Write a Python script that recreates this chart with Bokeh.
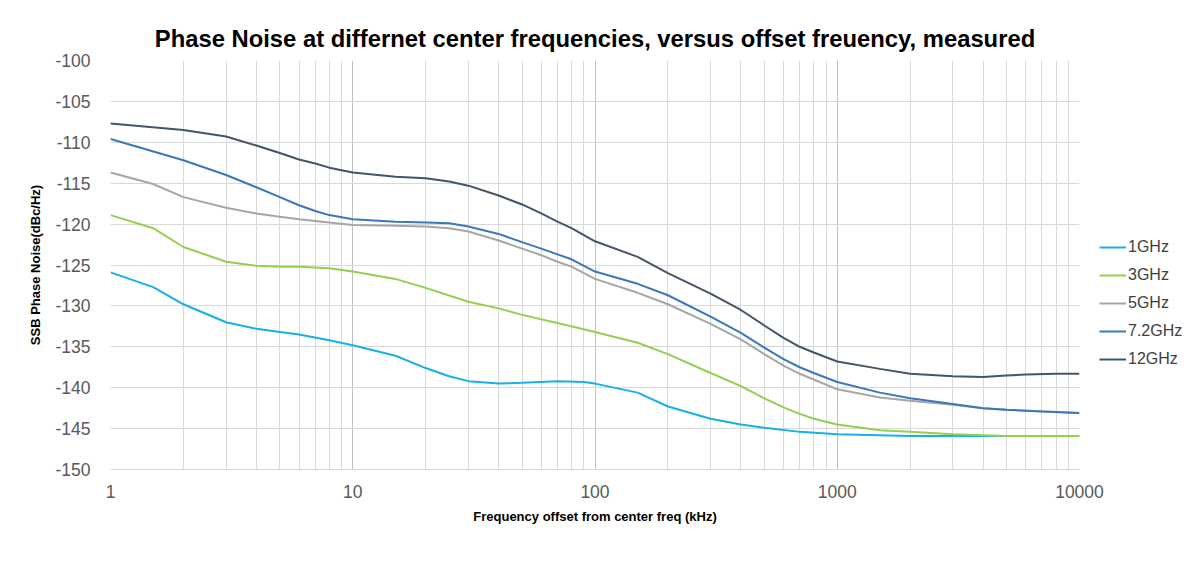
from bokeh.plotting import figure
from bokeh.models import Legend, LegendItem, FixedTicker, Range1d
from bokeh.embed import file_html
from bokeh.resources import INLINE

# Data (offset in kHz, phase noise in dBc/Hz)
freq_1g = [1, 1.5, 2, 3, 4, 5, 6, 8, 10, 15, 20, 25, 30, 40, 50, 70, 90, 100, 150, 200, 300, 400, 500, 700, 1000, 2000, 5000, 10000]
pn_1g = [-125.9, -127.7, -129.8, -132.0, -132.8, -133.2, -133.5, -134.2, -134.8, -136.1, -137.6, -138.6, -139.2, -139.5, -139.4, -139.2, -139.3, -139.5, -140.6, -142.3, -143.8, -144.5, -144.9, -145.4, -145.7, -145.9, -145.9, -145.9]

freq_3g = [1, 1.5, 2, 3, 4, 5, 6, 8, 10, 15, 20, 30, 40, 50, 70, 100, 150, 200, 300, 400, 500, 600, 700, 800, 1000, 1500, 2000, 3000, 5000, 10000]
pn_3g = [-118.9, -120.5, -122.8, -124.6, -125.1, -125.2, -125.2, -125.4, -125.8, -126.7, -127.8, -129.5, -130.3, -131.1, -132.1, -133.2, -134.5, -135.9, -138.2, -139.8, -141.3, -142.4, -143.2, -143.8, -144.5, -145.2, -145.4, -145.7, -145.9, -145.9]

freq_5g = [1, 1.5, 2, 3, 4, 5, 6, 8, 10, 15, 20, 25, 30, 40, 50, 60, 70, 80, 100, 150, 200, 300, 400, 500, 600, 700, 800, 1000, 1500, 2000, 3000, 4000, 5000, 10000]
pn_5g = [-113.7, -115.1, -116.7, -118.0, -118.7, -119.1, -119.4, -119.8, -120.1, -120.2, -120.3, -120.5, -120.9, -122.0, -123.0, -123.8, -124.6, -125.2, -126.7, -128.4, -129.8, -132.2, -134.1, -135.9, -137.3, -138.3, -139.0, -140.2, -141.2, -141.6, -142.1, -142.5, -142.7, -143.1]

freq_72g = [1, 2, 3, 4, 5, 6, 7, 8, 10, 15, 20, 25, 30, 40, 50, 60, 70, 80, 100, 150, 200, 300, 400, 500, 600, 700, 800, 1000, 1500, 2000, 3000, 4000, 5000, 7000, 10000]
pn_72g = [-109.6, -112.2, -114.0, -115.5, -116.7, -117.7, -118.4, -118.9, -119.4, -119.7, -119.8, -119.9, -120.3, -121.2, -122.2, -123.0, -123.7, -124.3, -125.8, -127.3, -128.7, -131.3, -133.3, -135.1, -136.5, -137.5, -138.2, -139.3, -140.6, -141.3, -142.0, -142.5, -142.7, -142.9, -143.1]

freq_12g = [1, 2, 3, 4, 5, 6, 7, 8, 10, 15, 20, 25, 30, 40, 50, 60, 70, 80, 100, 150, 200, 300, 400, 500, 600, 700, 800, 1000, 1500, 2000, 3000, 4000, 5000, 6000, 8000, 10000]
pn_12g = [-107.7, -108.5, -109.3, -110.4, -111.3, -112.1, -112.6, -113.1, -113.7, -114.2, -114.4, -114.8, -115.3, -116.5, -117.6, -118.7, -119.7, -120.5, -122.1, -124.0, -126.0, -128.5, -130.5, -132.4, -133.9, -135.0, -135.7, -136.8, -137.7, -138.3, -138.6, -138.7, -138.5, -138.4, -138.3, -138.3]

series_names = ["1GHz", "3GHz", "5GHz", "7.2GHz", "12GHz"]
series_x = [freq_1g, freq_3g, freq_5g, freq_72g, freq_12g]
series_y = [pn_1g, pn_3g, pn_5g, pn_72g, pn_12g]
colors = ["#17b0e8", "#92d050", "#a6a6a6", "#3878bb", "#44546a"]

x_major = [1, 10, 100, 1000, 10000]
x_minor = [m * d for d in [1, 10, 100, 1000] for m in range(2, 10)]
y_ticks = list(range(-150, -99, 5))

FONT = "Liberation Sans"

p = figure(frame_width=969, frame_height=409, x_axis_type="log",
           x_range=Range1d(1, 10000), y_range=Range1d(-150, -100),
           output_backend="svg", toolbar_location=None,
           min_border_left=110, min_border_right=0, min_border_top=60, min_border_bottom=94)

p.title.text = "Phase Noise at differnet center frequencies, versus offset freuency, measured"
p.title.text_font = FONT
p.title.text_font_size = "23.8px"
p.title.text_font_style = "bold"
p.title.text_color = "#000000"
p.title.align = "center"
p.title.standoff = 18

p.outline_line_color = None
p.background_fill_color = "white"
p.border_fill_color = "white"

# axes
p.xaxis.ticker = FixedTicker(ticks=x_major, minor_ticks=x_minor)
p.xaxis.major_label_overrides = {v: str(v) for v in x_major}
p.yaxis.ticker = FixedTicker(ticks=y_ticks)
p.yaxis.major_label_overrides = {v: str(v) for v in y_ticks}
for ax in (p.xaxis, p.yaxis):
    ax.major_tick_line_color = None
    ax.minor_tick_line_color = None
    ax.major_label_text_font = FONT
    ax.major_label_text_font_size = "17.5px"
    ax.major_label_text_color = "#595959"
    ax.axis_label_text_font = FONT
    ax.axis_label_text_font_size = "13px"
    ax.axis_label_text_font_style = "bold"
    ax.axis_label_text_color = "#000000"
p.xaxis.axis_line_color = "#d9d9d9"
p.yaxis.axis_line_color = None
p.xaxis.major_label_standoff = 9
p.yaxis.major_label_standoff = 14
p.xaxis.axis_label = "Frequency offset from center freq (kHz)"
p.yaxis.axis_label = "SSB Phase Noise(dBc/Hz)"
p.xaxis.axis_label_standoff = 8
p.yaxis.axis_label_standoff = 9

# grids
p.xgrid.grid_line_color = "#bfbfbf"
p.xgrid.minor_grid_line_color = "#d9d9d9"
p.ygrid.grid_line_color = "#d9d9d9"

items = []
for name, xs, ys, c in zip(series_names, series_x, series_y, colors):
    r = p.line(xs, ys, line_color=c, line_width=2)
    items.append(LegendItem(label=name, renderers=[r]))

legend = Legend(items=items, location=(20, 100))
legend.label_text_font = FONT
legend.label_text_font_size = "16px"
legend.label_text_color = "#404040"
legend.border_line_color = None
legend.background_fill_alpha = 0
legend.glyph_width = 27
legend.label_standoff = 2
legend.spacing = 8
legend.padding = 0
legend.margin = 20
p.add_layout(legend, "right")

open("out.html", "w").write(file_html(p, INLINE))
